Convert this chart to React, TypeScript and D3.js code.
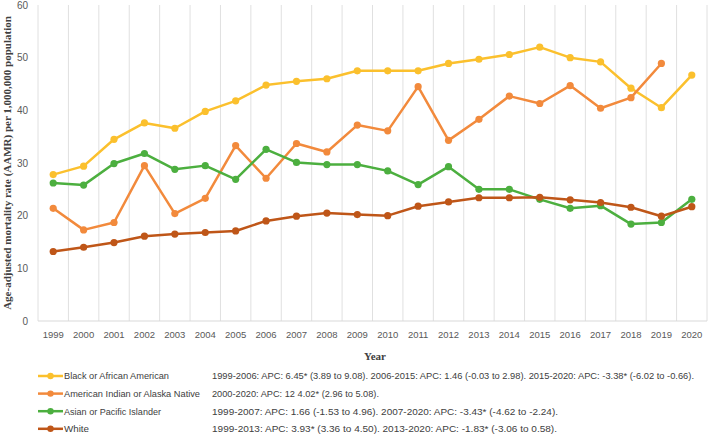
import React from "react";
import * as d3 from "d3";

const years = [
  "1999", "2000", "2001", "2002", "2003", "2004", "2005", "2006", "2007", "2008", "2009",
  "2010", "2011", "2012", "2013", "2014", "2015", "2016", "2017", "2018", "2019", "2020",
];

const black = [27.8, 29.4, 34.5, 37.6, 36.6, 39.8, 41.8, 44.8, 45.5, 46.0, 47.5, 47.5, 47.5, 48.9, 49.7, 50.6, 52.0, 50.0, 49.2, 44.2, 40.5, 46.7];
const aian: (number | null)[] = [21.4, 17.3, 18.7, 29.5, 20.4, 23.3, 33.3, 27.1, 33.7, 32.1, 37.2, 36.1, 44.5, 34.3, 38.3, 42.7, 41.3, 44.7, 40.4, 42.4, 48.9, null];
const asian = [26.2, 25.8, 29.9, 31.8, 28.8, 29.5, 26.9, 32.6, 30.1, 29.7, 29.7, 28.5, 25.9, 29.3, 25.0, 25.0, 23.1, 21.4, 21.9, 18.4, 18.7, 23.1];
const white = [13.2, 14.0, 14.9, 16.1, 16.5, 16.8, 17.1, 19.0, 19.9, 20.5, 20.2, 20.0, 21.8, 22.6, 23.4, 23.4, 23.5, 23.0, 22.5, 21.6, 19.9, 21.7];

const yTicks = [0, 10, 20, 30, 40, 50, 60];

const seriesNames = [
  "Black or African American",
  "American Indian or Alaska Native",
  "Asian or Pacific Islander",
  "White",
];
const apcNotes = [
  "1999-2006: APC: 6.45* (3.89 to 9.08). 2006-2015: APC: 1.46 (-0.03 to 2.98). 2015-2020: APC: -3.38* (-6.02 to -0.66).",
  "2000-2020: APC: 12 4.02* (2.96 to 5.08).",
  "1999-2007: APC: 1.66 (-1.53 to 4.96). 2007-2020: APC: -3.43* (-4.62 to -2.24).",
  "1999-2013: APC: 3.93* (3.36 to 4.50). 2013-2020: APC: -1.83* (-3.06 to 0.58).",
];

const W = 709;
const H = 435;
const colors = ["#FBC02D", "#F28A3C", "#4CAF3F", "#BF5618"];
const nameWidths = [105, 136, 97, 25];
const noteWidths = [482, 167, 346, 345];

export default function App() {
  const x = d3.scaleBand<string>().domain(years).range([38, 707]);
  const y = d3.scaleLinear().domain([0, 60]).range([321, 5]);
  const cx = (yr: string) => (x(yr) ?? 0) + x.bandwidth() / 2;

  const all = [black, aian, asian, white];
  const line = d3
    .line<number | null>()
    .defined((d) => d != null)
    .x((_, i) => cx(years[i]))
    .y((d) => y(d as number));

  const boundaries = years.map((yr) => x(yr) ?? 0).concat([(x(years[years.length - 1]) ?? 0) + x.bandwidth()]);

  return (
    <svg
      width={W}
      height={H}
      style={{ position: "absolute", left: 0, top: 0, background: "#fff" }}
      fontFamily="'Liberation Sans', Arial, sans-serif"
    >
      {/* vertical category gridlines */}
      {boundaries.map((bx, i) => (
        <line key={i} x1={bx} x2={bx} y1={y(60)} y2={y(0)} stroke="#e0e0e0" strokeWidth={1} />
      ))}
      <line x1={38} x2={707} y1={y(0)} y2={y(0)} stroke="#d9d9d9" strokeWidth={1} />

      {/* y tick labels */}
      {yTicks.map((t) => (
        <text key={t} x={28} y={y(t)} dy="0.35em" textAnchor="end" fontSize={10} fill="#595959">
          {t}
        </text>
      ))}

      {/* x tick labels */}
      {years.map((yr) => (
        <text key={yr} x={cx(yr)} y={338} textAnchor="middle" fontSize={9.5} fill="#595959">
          {yr}
        </text>
      ))}

      {/* axis titles */}
      <text
        x={375}
        y={360}
        textAnchor="middle"
        fontFamily="'Liberation Serif', 'Times New Roman', serif"
        fontWeight="bold"
        fontSize={11}
        fill="#404040"
      >
        Year
      </text>
      <text
        transform={`translate(11, ${163}) rotate(-90)`}
        textAnchor="middle"
        fontFamily="'Liberation Serif', 'Times New Roman', serif"
        fontWeight="bold"
        fontSize={11}
        fill="#404040"
      >
        Age-adjusted mortality rate (AAMR) per 1,000,000 population
      </text>

      {/* series */}
      {all.map((s, k) => (
        <g key={k}>
          <path d={line(s) ?? ""} fill="none" stroke={colors[k]} strokeWidth={2.5} strokeLinejoin="round" />
          {s.map((v, i) =>
            v == null ? null : <circle key={i} cx={cx(years[i])} cy={y(v)} r={3.6} fill={colors[k]} />
          )}
        </g>
      ))}

      {/* legend */}
      {seriesNames.map((name, k) => {
        const ly = 376 + k * 17.6;
        return (
          <g key={name}>
            <line x1={38} x2={63} y1={ly} y2={ly} stroke={colors[k]} strokeWidth={2.5} />
            <circle cx={50.5} cy={ly} r={3.2} fill={colors[k]} />
            <text
              x={64}
              y={ly}
              dy="0.35em"
              fontSize={9.5}
              fill="#404040"
              textLength={nameWidths[k]}
              lengthAdjust="spacingAndGlyphs"
            >
              {name}
            </text>
            <text
              x={212}
              y={ly}
              dy="0.35em"
              fontSize={9.5}
              fill="#404040"
              textLength={noteWidths[k]}
              lengthAdjust="spacingAndGlyphs"
            >
              {apcNotes[k]}
            </text>
          </g>
        );
      })}
    </svg>
  );
}
